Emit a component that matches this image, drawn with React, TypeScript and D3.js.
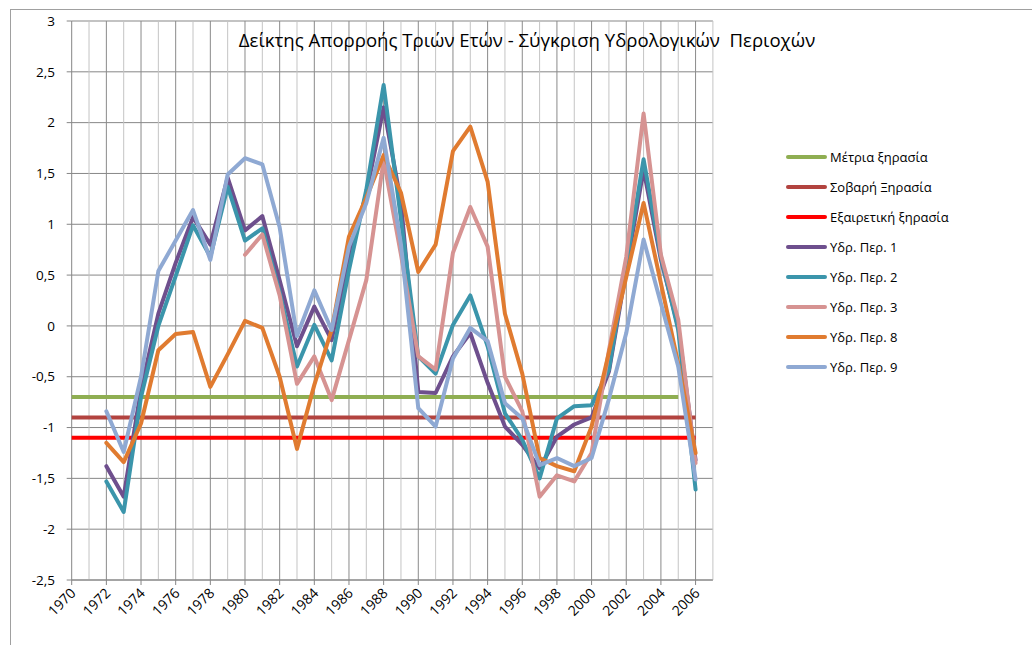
import * as d3 from 'd3'

const years = d3.range(1972, 2007)

// Υδρ. Περ. 1
const region1 = [
  -1.38, -1.68, -0.62, 0.12, 0.62, 1.07, 0.8, 1.46, 0.94, 1.08,
  0.45, -0.2, 0.19, -0.14, 0.68, 1.3, 2.15, 1.22, -0.65, -0.66,
  -0.3, -0.07, -0.56, -0.99, -1.17, -1.4, -1.09, -0.97, -0.9, -0.45,
  0.55, 1.54, 0.65, -0.01, -1.32,
]
// Υδρ. Περ. 2
const region2 = [
  -1.53, -1.83, -0.7, 0.0, 0.49, 0.99, 0.68, 1.37, 0.84, 0.96,
  0.33, -0.4, 0.01, -0.34, 0.55, 1.34, 2.37, 1.05, -0.3, -0.47,
  0.01, 0.3, -0.2, -0.86, -1.12, -1.5, -0.91, -0.79, -0.78, -0.43,
  0.6, 1.64, 0.68, -0.04, -1.61,
]
// Υδρ. Περ. 3 (starts 1980)
const region3 = [
  null, null, null, null, null, null, null, null, 0.7, 0.9,
  0.3, -0.57, -0.3, -0.73, -0.14, 0.45, 1.63, 0.7, -0.3, -0.43,
  0.72, 1.17, 0.78, -0.5, -0.84, -1.68, -1.47, -1.53, -1.25, -0.24,
  0.68, 2.09, 0.7, 0.06, -1.35,
]
// Υδρ. Περ. 8
const region8 = [
  -1.15, -1.34, -0.96, -0.24, -0.08, -0.06, -0.6, -0.28, 0.05, -0.02,
  -0.5, -1.21, -0.58, -0.04, 0.88, 1.26, 1.68, 1.31, 0.53, 0.8,
  1.72, 1.96, 1.42, 0.12, -0.47, -1.3, -1.38, -1.43, -0.99, -0.26,
  0.48, 1.21, 0.42, -0.37, -1.25,
]
// Υδρ. Περ. 9
const region9 = [
  -0.84, -1.24, -0.5, 0.54, 0.84, 1.14, 0.65, 1.49, 1.65, 1.59,
  0.97, -0.1, 0.35, -0.04, 0.78, 1.21, 1.85, 0.8, -0.81, -0.99,
  -0.32, -0.02, -0.15, -0.76, -0.91, -1.37, -1.3, -1.38, -1.3, -0.72,
  -0.07, 0.85, 0.22, -0.4, -1.51,
]

const thresholdNames = ['Μέτρια ξηρασία', 'Σοβαρή Ξηρασία', 'Εξαιρετική ξηρασία']
const thresholdValues = [-0.7, -0.9, -1.1]
const thresholdEnds = [2005, 2006, 2006]
const thresholdColors = ['#8fae52', '#b2433f', '#ff0000']

const regionNames = ['Υδρ. Περ. 1', 'Υδρ. Περ. 2', 'Υδρ. Περ. 3', 'Υδρ. Περ. 8', 'Υδρ. Περ. 9']
const regionSeries = [region1, region2, region3, region8, region9]
const regionColors = ['#6e4f8d', '#3b95ab', '#d69392', '#e07b30', '#8fa9d3']

const yTicks = d3.range(-2.5, 3.01, 0.5)
const xLabelYears = d3.range(1970, 2007, 2)
const gridYears = d3.range(1971, 2008)

const title = 'Δείκτης Απορροής Τριών Ετών - Σύγκριση Υδρολογικών  Περιοχών'

const W = 1032
const H = 645
const font = '"Open Sans", "Noto Sans", sans-serif'

export default function App() {
  const x = d3.scaleLinear().domain([1970, 2007]).range([71.7, 712.9])
  const y = d3.scaleLinear().domain([-2.5, 3]).range([580, 21])
  const fmt = (v: number) => String(Math.round(v * 10) / 10).replace('.', ',')

  const line = d3
    .line<[number, number | null]>()
    .defined((d) => d[1] != null)
    .x((d) => x(d[0]))
    .y((d) => y(d[1] as number))

  const legendItems = [
    ...thresholdNames.map((n, i) => ({ name: n, color: thresholdColors[i] })),
    ...regionNames.map((n, i) => ({ name: n, color: regionColors[i] })),
  ]

  return (
    <svg
      width={W}
      height={H}
      style={{ position: 'absolute', left: 0, top: 0, background: '#fff' }}
      fontFamily={font}
    >
      <rect x={10.5} y={9.5} width={1040} height={660} fill="#fff" stroke="#a0a0a0" />

      {/* gridlines */}
      {yTicks.map((t) => (
        <line key={'gy' + t} x1={x(1970)} x2={x(2007)} y1={y(t)} y2={y(t)} stroke="#878787" strokeWidth={1} />
      ))}
      {gridYears.map((yr) => (
        <line
          key={'gx' + yr}
          x1={x(yr)}
          x2={x(yr)}
          y1={y(3)}
          y2={y(-2.5)}
          stroke={yr % 2 === 0 ? '#8a8a8a' : '#c4c4c4'}
          strokeWidth={1}
        />
      ))}

      {/* axes */}
      <line x1={x(1970)} x2={x(1970)} y1={y(3)} y2={y(-2.5)} stroke="#868686" />
      <line x1={x(1970)} x2={x(2007)} y1={y(-2.5)} y2={y(-2.5)} stroke="#868686" />
      {yTicks.map((t) => (
        <g key={'yt' + t}>
          <line x1={x(1970) - 5} x2={x(1970)} y1={y(t)} y2={y(t)} stroke="#868686" />
          <text x={55} y={y(t)} dy="0.35em" textAnchor="end" fontSize={13.5} fill="#000">
            {fmt(t)}
          </text>
        </g>
      ))}
      {xLabelYears.map((yr) => (
        <g key={'xt' + yr}>
          <line x1={x(yr)} x2={x(yr)} y1={y(-2.5)} y2={y(-2.5) + 5} stroke="#868686" />
          <text
            transform={`translate(${x(yr) + 5},${y(-2.5) + 14}) rotate(-45)`}
            textAnchor="end"
            fontSize={14}
            fill="#000"
          >
            {yr}
          </text>
        </g>
      ))}

      {/* threshold lines */}
      {thresholdValues.map((v, i) => (
        <path
          key={'th' + i}
          d={line([
            [1970, v],
            [thresholdEnds[i], v],
          ]) || ''}
          fill="none"
          stroke={thresholdColors[i]}
          strokeWidth={4}
        />
      ))}

      {/* region series */}
      {regionSeries.map((s, i) => (
        <path
          key={'rs' + i}
          d={line(years.map((yr, j) => [yr, s[j]] as [number, number | null])) || ''}
          fill="none"
          stroke={regionColors[i]}
          strokeWidth={4}
          strokeLinejoin="round"
          strokeLinecap="round"
        />
      ))}

      <text x={527} y={47} textAnchor="middle" fontSize={18.6} fill="#000" style={{ whiteSpace: 'pre' }}>
        {title}
      </text>

      {/* legend */}
      {legendItems.map((it, i) => (
        <g key={'lg' + i} transform={`translate(788,${157 + i * 30})`}>
          <line x1={0} x2={37} y1={0} y2={0} stroke={it.color} strokeWidth={4} strokeLinecap="round" />
          <text x={42} y={0} dy="0.35em" fontSize={13} fill="#000">
            {it.name}
          </text>
        </g>
      ))}
    </svg>
  )
}
